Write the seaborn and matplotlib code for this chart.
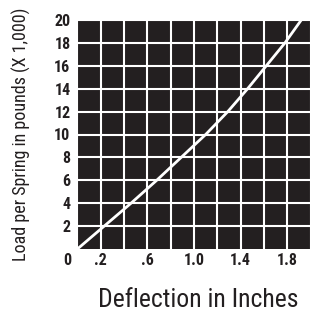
import numpy as np
import matplotlib
matplotlib.use("Agg")
import matplotlib.pyplot as plt
from matplotlib.ticker import MultipleLocator
import seaborn as sns

# --------------------------
# data
# --------------------------
deflection = [0.0, 0.23, 0.46, 0.68, 0.89, 1.10, 1.29, 1.46, 1.62, 1.78, 1.92]
load = [0, 2, 4, 6, 8, 10, 12, 14, 16, 18, 20]

x_ticks = [0.2, 0.6, 1.0, 1.4, 1.8]
x_tick_labels = [".2", ".6", "1.0", "1.4", "1.8"]
y_ticks = [2, 4, 6, 8, 10, 12, 14, 16, 18, 20]
y_tick_labels = ["2", "4", "6", "8", "10", "12", "14", "16", "18", "20"]

dark = "#231f20"

sns.set_style("white")
# condensed face if there is one, Roboto otherwise
plt.rcParams["font.family"] = ["Roboto Condensed", "Liberation Sans Narrow", "Roboto", "DejaVu Sans"]

fig = plt.figure(figsize=(3.16, 3.17), dpi=100)
ax = fig.add_axes([77.4 / 316, 1 - 249 / 317, 233.2 / 316, 229 / 317])
ax.set_facecolor(dark)

sns.lineplot(x=deflection, y=load, ax=ax, color="white", linewidth=2.0,
             estimator=None, sort=False, zorder=3)

ax.set_xlim(0, 2.0)
ax.set_ylim(0, 20)

ax.set_xticks(x_ticks)
ax.set_xticklabels(x_tick_labels)
ax.set_yticks(y_ticks)
ax.set_yticklabels(y_tick_labels)
ax.xaxis.set_minor_locator(MultipleLocator(0.2))
ax.grid(which="both", color="white", linewidth=1.5)
ax.set_axisbelow(True)

for s in ax.spines.values():
    s.set_visible(False)

ax.tick_params(which="both", length=0)
ax.tick_params(axis="x", pad=3, labelsize=11.5)
ax.tick_params(axis="y", pad=5, labelsize=11.5)
for lab in ax.get_xticklabels() + ax.get_yticklabels():
    lab.set_fontweight("bold")
    lab.set_color(dark)

# shared origin label
ax.annotate("0", xy=(0, 0), xytext=(-7, -8.5), textcoords="offset points",
            ha="center", va="center", fontsize=11.5, fontweight="bold", color=dark)

ax.set_ylabel("Load per Spring in pounds (X 1,000)", fontsize=13, color=dark, va="center")
ax.yaxis.set_label_coords((21 - 77.4) / 233.2, 0.5)
ax.set_xlabel("Deflection in Inches", fontsize=18.5, color=dark, va="baseline")
ax.xaxis.set_label_coords((198.5 - 77.4) / 233.2, (249 - 307) / 229)

fig.savefig("out.png", dpi=100)
